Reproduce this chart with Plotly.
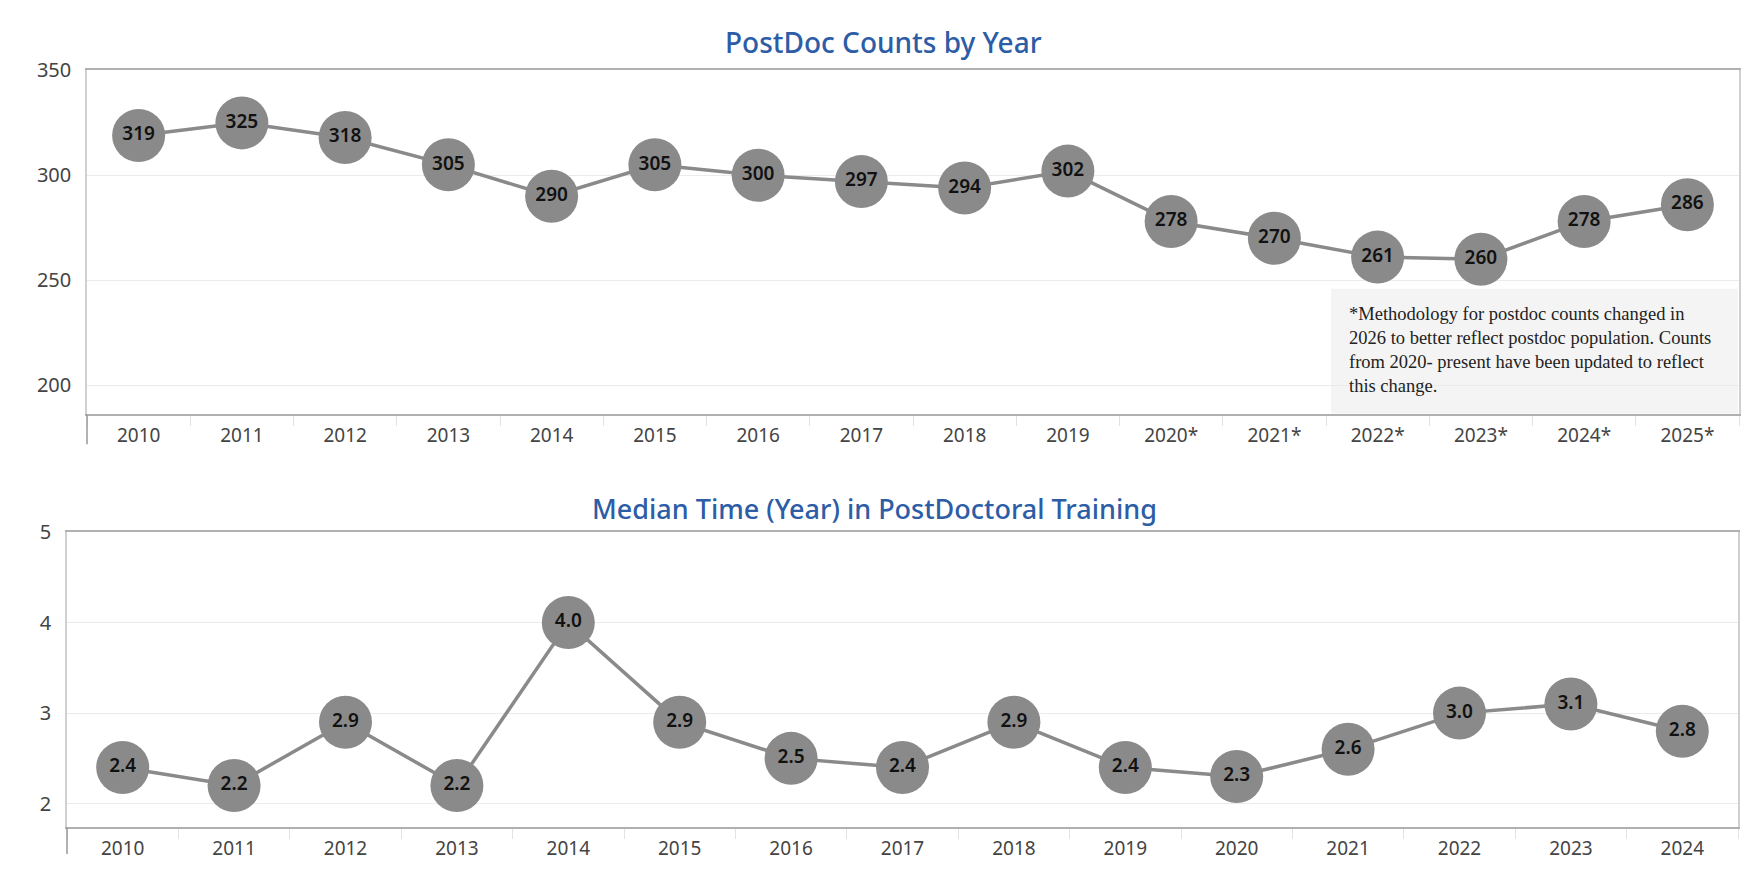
import plotly.graph_objects as go

# --- data ---
count_years = ["2010", "2011", "2012", "2013", "2014", "2015", "2016", "2017",
               "2018", "2019", "2020*", "2021*", "2022*", "2023*", "2024*", "2025*"]
postdoc_counts = [319, 325, 318, 305, 290, 305, 300, 297, 294, 302, 278, 270, 261, 260, 278, 286]

median_years = ["2010", "2011", "2012", "2013", "2014", "2015", "2016", "2017",
                "2018", "2019", "2020", "2021", "2022", "2023", "2024"]
median_time = [2.4, 2.2, 2.9, 2.2, 4.0, 2.9, 2.5, 2.4, 2.9, 2.4, 2.3, 2.6, 3.0, 3.1, 2.8]

count_ticks = [200, 250, 300, 350]
median_ticks = [2, 3, 4, 5]

note_text = ("*Methodology for postdoc counts changed in<br>"
             "2026 to better reflect postdoc population. Counts<br>"
             "from 2020- present have been updated to reflect<br>"
             "this change.")

# page is 1761x893; keep the figure inside the body margin
W, H = 1745, 877
GRAY = "#8a8a8a"
BLUE = "#2C5DA6"


def px_x(v):
    # page pixel -> paper fraction
    return (v - 8) / W


def px_y(v):
    # page pixel -> paper fraction (offset/scale measured from earlier renders)
    f = (v - 19.4) / 0.987
    return 1 - f / H


fig = go.Figure()

# top chart: postdoc counts
fig.add_trace(go.Scatter(
    x=count_years, y=postdoc_counts,
    mode="lines+markers+text",
    text=[str(v) for v in postdoc_counts],
    textposition="middle center",
    textfont=dict(family="Noto Sans", size=19, color="#111111", weight=600),
    line=dict(color=GRAY, width=3.5),
    marker=dict(size=53, color=GRAY, line=dict(width=0)),
    cliponaxis=False,
    xaxis="x", yaxis="y",
    showlegend=False,
))

# bottom chart: median time
fig.add_trace(go.Scatter(
    x=median_years, y=median_time,
    mode="lines+markers+text",
    text=[f"{v:.1f}" for v in median_time],
    textposition="middle center",
    textfont=dict(family="Noto Sans", size=19, color="#111111", weight=600),
    line=dict(color=GRAY, width=3.5),
    marker=dict(size=53, color=GRAY, line=dict(width=0)),
    cliponaxis=False,
    xaxis="x2", yaxis="y2",
    showlegend=False,
))

xaxis_common = dict(
    type="category",
    showgrid=False,
    showline=True, linecolor="#b0b0b0", linewidth=1.5, mirror=True,
    ticks="outside", tickson="boundaries", ticklen=10, tickcolor="#e2e2e2",
    ticklabelstandoff=3,
    tickfont=dict(family="Noto Sans", size=19, color="#444444"),
    fixedrange=True,
)
yaxis_common = dict(
    showgrid=True, gridcolor="#ebebeb", gridwidth=1,
    showline=True, linecolor="#d0d0d0", linewidth=1.5, mirror=True,
    zeroline=False, ticks="",
    ticklabelstandoff=10,
    tickfont=dict(family="Noto Sans", size=20, color="#444444"),
    fixedrange=True,
)

fig.update_layout(
    width=W, height=H,
    margin=dict(l=0, r=0, t=0, b=0),
    paper_bgcolor="white", plot_bgcolor="white",
    xaxis=dict(xaxis_common, domain=[px_x(87), px_x(1739)], anchor="y",
               range=[-0.5, len(count_years) - 0.5]),
    yaxis=dict(yaxis_common, domain=[px_y(413), px_y(68)], anchor="x",
               range=[186, 350], tickvals=count_ticks),
    xaxis2=dict(xaxis_common, domain=[px_x(67), px_x(1738)], anchor="y2",
                range=[-0.5, len(median_years) - 0.5]),
    yaxis2=dict(yaxis_common, domain=[px_y(827), px_y(531)], anchor="x2",
                range=[1.74, 5], tickvals=median_ticks),
)

# note box behind the last points of the top chart
fig.add_shape(type="rect", xref="paper", yref="paper", layer="below",
              x0=px_x(1331), x1=px_x(1738), y0=px_y(412), y1=px_y(287),
              fillcolor="#f4f4f4", line=dict(width=0))

# axis stubs below the plots
fig.add_shape(type="line", xref="x domain", yref="y domain",
              x0=0, x1=0, y0=0, y1=-30 / 345, line=dict(color="#999999", width=1.5))
fig.add_shape(type="line", xref="x2 domain", yref="y2 domain",
              x0=0, x1=0, y0=0, y1=-27 / 296, line=dict(color="#999999", width=1.5))

fig.add_annotation(text=note_text, xref="paper", yref="paper",
                   x=px_x(1347), y=px_y(348), xanchor="left", yanchor="middle",
                   align="left", showarrow=False,
                   font=dict(family="Liberation Serif", size=18.5, color="#222222"))

# titles
fig.add_annotation(text="PostDoc Counts by Year", xref="paper", yref="paper",
                   x=px_x(883), y=px_y(39), xanchor="center", yanchor="middle",
                   showarrow=False,
                   font=dict(family="Noto Sans", size=28, color=BLUE, weight=500))
fig.add_annotation(text="Median Time (Year) in PostDoctoral Training", xref="paper", yref="paper",
                   x=px_x(874), y=px_y(507), xanchor="center", yanchor="middle",
                   showarrow=False,
                   font=dict(family="Noto Sans", size=27, color=BLUE, weight=500))

fig.write_html("out.html")
